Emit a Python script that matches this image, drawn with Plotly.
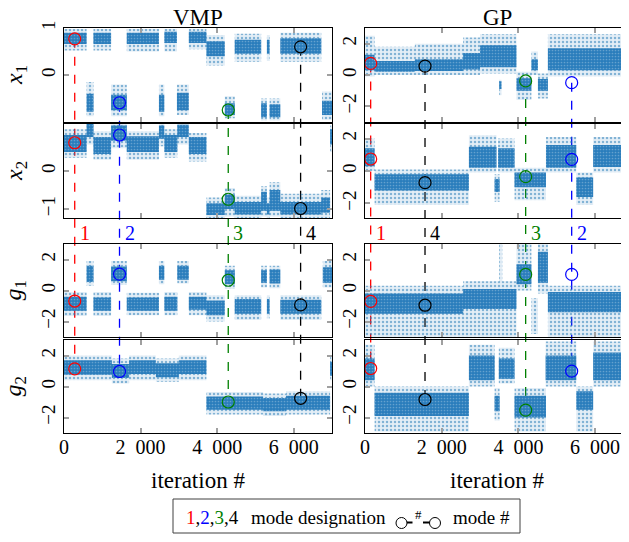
import plotly.graph_objects as go

# page body adds an 8 px margin; the figure is sized to fill the rest of the window
OFF = 8
W, H = 629 - OFF, 542 - OFF
FONT = "Liberation Serif"

# ---------------- data ----------------
ITER_TICKS = [0, 2000, 4000, 6000]
ITER_TICK_TEXT = ["0", "2\u2002000", "4\u2002000", "6\u2002000"]
VMP_ITER_RANGE = [0, 7000]
GP_ITER_RANGE = [0, 6885]

# MCMC trace segments:
# (start iter, end iter, sparse low, dense low, dense high, sparse high)
VMP_X1 = [
    (0, 590, 0.52, 0.66, 0.90, 0.98), (590, 770, -0.88, -0.78, -0.40, -0.15),
    (770, 1230, 0.52, 0.66, 0.90, 0.98), (1230, 1640, -0.88, -0.75, -0.42, -0.20),
    (1640, 2480, 0.50, 0.66, 0.90, 0.98), (2480, 2620, -0.88, -0.78, -0.42, -0.20),
    (2620, 2950, 0.50, 0.68, 0.92, 0.98), (2950, 3260, -0.85, -0.75, -0.38, -0.20),
    (3260, 3720, 0.55, 0.68, 0.92, 0.98), (3720, 4200, 0.20, 0.40, 0.72, 0.85),
    (4200, 4460, -0.92, -0.85, -0.60, -0.45), (4460, 5150, 0.28, 0.45, 0.75, 0.88),
    (5150, 5300, -0.97, -0.90, -0.60, -0.50), (5300, 5370, 0.30, 0.45, 0.75, 0.85),
    (5370, 5650, -0.97, -0.90, -0.62, -0.50), (5650, 6720, 0.28, 0.45, 0.78, 0.90),
    (6740, 7000, -0.95, -0.85, -0.55, -0.35),
]
VMP_X2 = [
    (0, 590, 0.35, 0.50, 0.95, 1.10), (590, 770, 0.70, 0.90, 1.24, 1.24),
    (770, 1230, 0.30, 0.45, 0.90, 1.05), (1230, 1640, 0.60, 0.80, 1.20, 1.24),
    (1640, 2480, 0.30, 0.50, 0.92, 1.05), (2480, 2620, 0.65, 0.85, 1.20, 1.24),
    (2620, 2960, 0.35, 0.50, 0.95, 1.10), (2960, 3260, 0.70, 0.90, 1.22, 1.24),
    (3260, 3720, 0.25, 0.45, 0.90, 1.00), (3720, 4200, -1.24, -1.16, -0.85, -0.70),
    (4200, 4460, -1.20, -1.00, -0.62, -0.45), (4460, 5150, -1.24, -1.15, -0.82, -0.65),
    (5150, 5300, -1.20, -1.05, -0.55, -0.40), (5300, 5370, -1.24, -1.15, -0.85, -0.70),
    (5370, 5650, -1.20, -1.05, -0.50, -0.30), (5650, 6720, -1.24, -1.15, -0.82, -0.60),
    (6720, 6950, -1.24, -1.10, -0.70, -0.50), (6950, 7000, 0.50, 0.70, 1.10, 1.20),
]
VMP_G1 = [
    (0, 590, -1.65, -1.30, -0.40, -0.10), (590, 770, 0.30, 0.55, 1.60, 1.90),
    (770, 1230, -1.65, -1.30, -0.45, -0.10), (1230, 1640, 0.35, 0.60, 1.55, 1.90),
    (1640, 2480, -1.60, -1.30, -0.45, -0.15), (2480, 2620, 0.40, 0.70, 1.60, 1.90),
    (2620, 2960, -1.60, -1.30, -0.40, -0.10), (2960, 3260, 0.45, 0.70, 1.60, 1.90),
    (3260, 3720, -1.60, -1.25, -0.40, -0.10), (3720, 4200, -2.00, -1.60, -0.65, -0.30),
    (4200, 4460, 0.10, 0.40, 1.30, 1.60), (4460, 5150, -1.90, -1.50, -0.55, -0.30),
    (5150, 5300, 0.20, 0.50, 1.30, 1.60), (5300, 5370, -1.80, -1.50, -0.55, -0.30),
    (5370, 5650, 0.15, 0.45, 1.35, 1.60), (5650, 6720, -1.90, -1.50, -0.60, -0.30),
    (6760, 7000, 0.20, 0.50, 1.50, 1.90),
]
VMP_G2 = [
    (0, 1250, 0.40, 0.75, 1.70, 2.00), (1250, 1700, 0.20, 0.55, 1.45, 1.80),
    (1700, 2400, 0.40, 0.80, 1.70, 2.00), (2400, 3000, 0.30, 0.60, 1.50, 1.80),
    (3000, 3720, 0.40, 0.80, 1.70, 2.00), (3720, 5200, -1.80, -1.50, -0.65, -0.35),
    (5200, 5800, -1.90, -1.60, -0.75, -0.45), (5800, 6950, -1.80, -1.50, -0.60, -0.30),
    (6950, 7000, 0.40, 0.70, 1.60, 1.90),
]
GP_X1 = [
    (0, 250, -0.10, 0.30, 1.30, 2.50), (250, 1300, 0.00, 0.20, 0.90, 1.80),
    (1300, 2560, 0.00, 0.25, 1.00, 2.00), (2560, 3000, 0.00, 0.35, 1.40, 2.40),
    (3000, 3950, 0.10, 0.50, 1.90, 2.60), (3500, 3560, -1.30, -0.90, -0.40, -0.30),
    (3950, 4340, -1.60, -1.00, -0.20, 0.20), (4340, 4510, 0.00, 0.30, 1.00, 1.50),
    (4510, 4770, -1.50, -1.00, -0.25, 0.10), (4770, 6885, -0.10, 0.30, 1.70, 2.60),
]
GP_X2 = [
    (0, 250, 0.00, 0.30, 1.40, 2.00), (250, 2710, -2.10, -1.20, -0.20, 0.10),
    (2710, 3430, -0.10, 0.20, 1.50, 2.20), (3380, 3510, -1.90, -1.30, -0.50, -0.20),
    (3470, 3900, -0.10, 0.20, 1.40, 2.00), (3900, 4720, -1.80, -1.00, -0.10, 0.20),
    (4720, 5510, -0.10, 0.20, 1.60, 2.10), (5510, 5950, -2.10, -1.60, -0.40, -0.10),
    (5950, 6885, -0.10, 0.25, 1.60, 2.10),
]
GP_G1 = [
    (0, 2560, -3.00, -1.50, -0.20, 0.30), (2560, 3950, -3.00, -1.20, 0.10, 0.60),
    (3500, 3580, -2.00, 0.00, 0.00, 3.00), (3950, 4340, 0.00, 0.40, 1.70, 3.00),
    (4340, 4510, -2.80, -1.50, -1.50, -0.50), (4510, 4770, -0.20, 0.50, 2.50, 3.00),
    (4770, 6885, -3.00, -1.40, -0.10, 0.30),
]
GP_G2 = [
    (0, 250, 0.00, 0.40, 1.80, 2.70), (250, 2710, -2.90, -1.90, -0.40, 0.00),
    (2710, 3380, 0.00, 0.40, 2.00, 2.70), (3380, 3510, -2.20, -1.60, -0.60, -0.10),
    (3490, 3900, 0.20, 0.50, 1.80, 2.50), (3900, 4720, -2.90, -2.00, -0.60, -0.10),
    (4710, 5510, 0.00, 0.40, 2.00, 2.90), (5510, 5950, -2.90, -1.50, -0.30, 0.00),
    (5950, 6885, 0.00, 0.40, 2.20, 2.90),
]

MODE_NAMES = ["1", "2", "3", "4"]
MODE_COLORS = ["#ff0000", "#0000ff", "#008000", "#000000"]

VMP_MODE_ITER = [280, 1450, 4290, 6180]
VMP_MODE_X1 = [0.77, -0.59, -0.745, 0.60]
VMP_MODE_X2 = [0.745, 0.95, -0.745, -0.99]
VMP_MODE_G1 = [-0.68, 1.06, 0.66, -0.93]
VMP_MODE_G2 = [1.14, 0.97, -1.00, -0.76]

GP_MODE_ITER = [148, 5390, 4190, 1565]
GP_MODE_X1 = [0.74, -0.49, -0.38, 0.57]
GP_MODE_X2 = [0.74, 0.72, -0.35, -0.72]
GP_MODE_G1 = [-0.70, 1.04, 1.04, -0.95]
GP_MODE_G2 = [1.16, 0.99, -1.52, -0.84]

ROW_LABELS = ["<i>x</i><sub>1</sub>", "<i>x</i><sub>2</sub>",
              "<i>g</i><sub>1</sub>", "<i>g</i><sub>2</sub>"]

# ---------------- layout geometry (window pixels -> paper) ----------------
def pxx(x):
    return (x - OFF) / W


def pxy(y):
    return 1 - (y - OFF) / H


COL_DOM = [[pxx(64), pxx(332)], [pxx(365), 1.0]]
ROW_PX = [(28, 122), (124, 218), (244, 337), (340, 433)]
ROW_DOM = [[pxy(b), pxy(t)] for t, b in ROW_PX]
COL_CENTER = [pxx(198), pxx(497)]

columns = [
    dict(title="VMP", xr=VMP_ITER_RANGE, segs=[VMP_X1, VMP_X2, VMP_G1, VMP_G2],
         modes_it=VMP_MODE_ITER,
         modes=[VMP_MODE_X1, VMP_MODE_X2, VMP_MODE_G1, VMP_MODE_G2],
         yr=[[-1, 1], [-1.24, 1.24], [-3, 3], [-3, 3]],
         yt=[([0, 1], ["0", "1"]), ([-1, 0], ["\u22121", "0"]),
             ([-2, 0, 2], ["\u22122", "0", "2"]), ([-2, 0, 2], ["\u22122", "0", "2"])]),
    dict(title="GP", xr=GP_ITER_RANGE, segs=[GP_X1, GP_X2, GP_G1, GP_G2],
         modes_it=GP_MODE_ITER,
         modes=[GP_MODE_X1, GP_MODE_X2, GP_MODE_G1, GP_MODE_G2],
         yr=[[-3, 3], [-2.9, 2.9], [-3, 3], [-3, 3]],
         yt=[([-2, 0, 2], ["\u22122", "0", "2"])] * 4),
]


def band(segs, lo_i, hi_i):
    xs, ys = [], []
    for s in segs:
        a, b, lo, hi = s[0], s[1], s[lo_i], s[hi_i]
        xs += [a, b, b, a, a, None]
        ys += [lo, lo, hi, hi, lo, None]
    return xs, ys


fig = go.Figure()
layout = dict(shapes=[], annotations=[])

for ci, col in enumerate(columns):
    for ri in range(4):
        k = ci * 4 + ri + 1
        xa, ya = f"x{k}", f"y{k}"
        segs = col["segs"][ri]
        hx, hy = band(segs, 2, 5)
        fig.add_trace(go.Scatter(
            x=hx, y=hy, xaxis=xa, yaxis=ya, mode="lines", fill="toself",
            line=dict(width=0),
            fillpattern=dict(shape=".", size=4, solidity=0.3,
                             fgcolor="#1f77b4", bgcolor="rgba(31,119,180,0.12)"),
            hoverinfo="skip", showlegend=False))
        cx, cy = band(segs, 3, 4)
        fig.add_trace(go.Scatter(
            x=cx, y=cy, xaxis=xa, yaxis=ya, mode="lines", fill="toself",
            line=dict(width=0),
            fillpattern=dict(shape=".", size=3, solidity=0.25,
                             fgcolor="rgba(255,255,255,0.55)", bgcolor="#2a7dbc"),
            hoverinfo="skip", showlegend=False))
        fig.add_trace(go.Scatter(
            x=col["modes_it"], y=col["modes"][ri], xaxis=xa, yaxis=ya,
            mode="markers", cliponaxis=False,
            marker=dict(symbol="circle-open", size=12, color=MODE_COLORS,
                        line=dict(width=1.2)),
            hoverinfo="skip", showlegend=False))

        bottom = ri == 3
        layout[f"xaxis{k}"] = dict(
            domain=COL_DOM[ci], range=col["xr"], anchor=ya,
            showline=True, linecolor="black", linewidth=1,
            mirror="allticks", ticks="inside", ticklen=5, tickcolor="#a0a0a0",
            tickwidth=1.5, tickvals=ITER_TICKS, ticktext=ITER_TICK_TEXT,
            showticklabels=bottom, showgrid=False, zeroline=False,
            ticklabelstandoff=-4,
            tickfont=dict(family=FONT, size=20, color="black"),
        )
        tv, tt = col["yt"][ri]
        layout[f"yaxis{k}"] = dict(
            domain=ROW_DOM[ri], range=col["yr"][ri], anchor=xa,
            showline=True, linecolor="black", linewidth=1,
            mirror="allticks" if ci == 0 else False,
            ticks="inside", ticklen=5, tickcolor="#a0a0a0", tickwidth=1.5,
            tickvals=tv, ticktext=tt, tickangle=-90,
            showgrid=False, zeroline=False,
            tickfont=dict(family=FONT, size=19, color="black"),
        )

    # dashed mode lines (from row-1 value to row-4 value)
    def to_paper(v, ri):
        d, r = ROW_DOM[ri], col["yr"][ri]
        return d[0] + (v - r[0]) / (r[1] - r[0]) * (d[1] - d[0])

    for mi in range(4):
        layout["shapes"].append(dict(
            type="line", xref=f"x{ci * 4 + 1}", yref="paper",
            x0=col["modes_it"][mi], x1=col["modes_it"][mi],
            y0=to_paper(col["modes"][0][mi], 0), y1=to_paper(col["modes"][3][mi], 3),
            line=dict(color=MODE_COLORS[mi], width=1.3, dash="dash"), layer="below"))
        layout["annotations"].append(dict(
            xref=f"x{ci * 4 + 1}", yref="paper", x=col["modes_it"][mi], y=pxy(233),
            xanchor="left", yanchor="middle", xshift=3, showarrow=False,
            text=MODE_NAMES[mi], font=dict(family=FONT, size=20, color=MODE_COLORS[mi])))

    layout["annotations"].append(dict(
        xref="paper", yref="paper", x=COL_CENTER[ci], y=pxy(17.5), xanchor="center",
        yanchor="middle", showarrow=False, text=col["title"], borderpad=0,
        font=dict(family=FONT, size=23, color="black")))
    layout["annotations"].append(dict(
        xref="paper", yref="paper", x=COL_CENTER[ci], y=pxy(480), xanchor="center",
        yanchor="middle", showarrow=False, text="iteration #",
        font=dict(family=FONT, size=23, color="black")))

for ri in range(4):
    layout["annotations"].append(dict(
        xref="paper", yref="paper", x=0.0, y=(ROW_DOM[ri][0] + ROW_DOM[ri][1]) / 2,
        xanchor="left", yanchor="middle", textangle=-90, showarrow=False, borderpad=0,
        height=22, valign="bottom",
        text=ROW_LABELS[ri], font=dict(family=FONT, size=24, color="black")))

# ---------------- legend box ----------------
layout["shapes"].append(dict(type="rect", xref="paper", yref="paper",
                             x0=pxx(173), x1=pxx(520), y0=pxy(533), y1=pxy(499),
                             line=dict(color="#404040", width=1)))
layout["annotations"].append(dict(
    xref="paper", yref="paper", x=pxx(184), y=pxy(517), xanchor="left", yanchor="middle",
    showarrow=False,
    text=("<span style='color:#ff0000'>1</span>,<span style='color:#0000ff'>2</span>,"
          "<span style='color:#008000'>3</span>,4"),
    font=dict(family=FONT, size=19, color="black")))
layout["annotations"].append(dict(
    xref="paper", yref="paper", x=pxx(249), y=pxy(517), xanchor="left", yanchor="middle",
    showarrow=False, text="mode designation", font=dict(family=FONT, size=19, color="black")))
for cxp in (401.5, 435):
    layout["shapes"].append(dict(type="circle", xref="paper", yref="paper",
                                 x0=pxx(cxp - 5.5), x1=pxx(cxp + 5.5),
                                 y0=pxy(523 + 5.5), y1=pxy(523 - 5.5),
                                 line=dict(color="black", width=1)))
for a, b in ((407, 412.5), (423, 429.5)):
    layout["shapes"].append(dict(type="line", xref="paper", yref="paper",
                                 x0=pxx(a), x1=pxx(b), y0=pxy(522.5), y1=pxy(522.5),
                                 line=dict(color="black", width=2)))
layout["annotations"].append(dict(
    xref="paper", yref="paper", x=pxx(418), y=pxy(514), xanchor="center", yanchor="middle",
    showarrow=False, text="#", font=dict(family=FONT, size=13, color="black")))
layout["annotations"].append(dict(
    xref="paper", yref="paper", x=pxx(451), y=pxy(517), xanchor="left", yanchor="middle",
    showarrow=False, text="mode #", font=dict(family=FONT, size=19, color="black")))

fig.update_layout(
    width=W, height=H, margin=dict(l=0, r=0, t=0, b=0, autoexpand=False),
    paper_bgcolor="white", plot_bgcolor="rgba(0,0,0,0)",
    showlegend=False, font=dict(family=FONT, color="black"),
    **layout)

fig.write_html("out.html")
